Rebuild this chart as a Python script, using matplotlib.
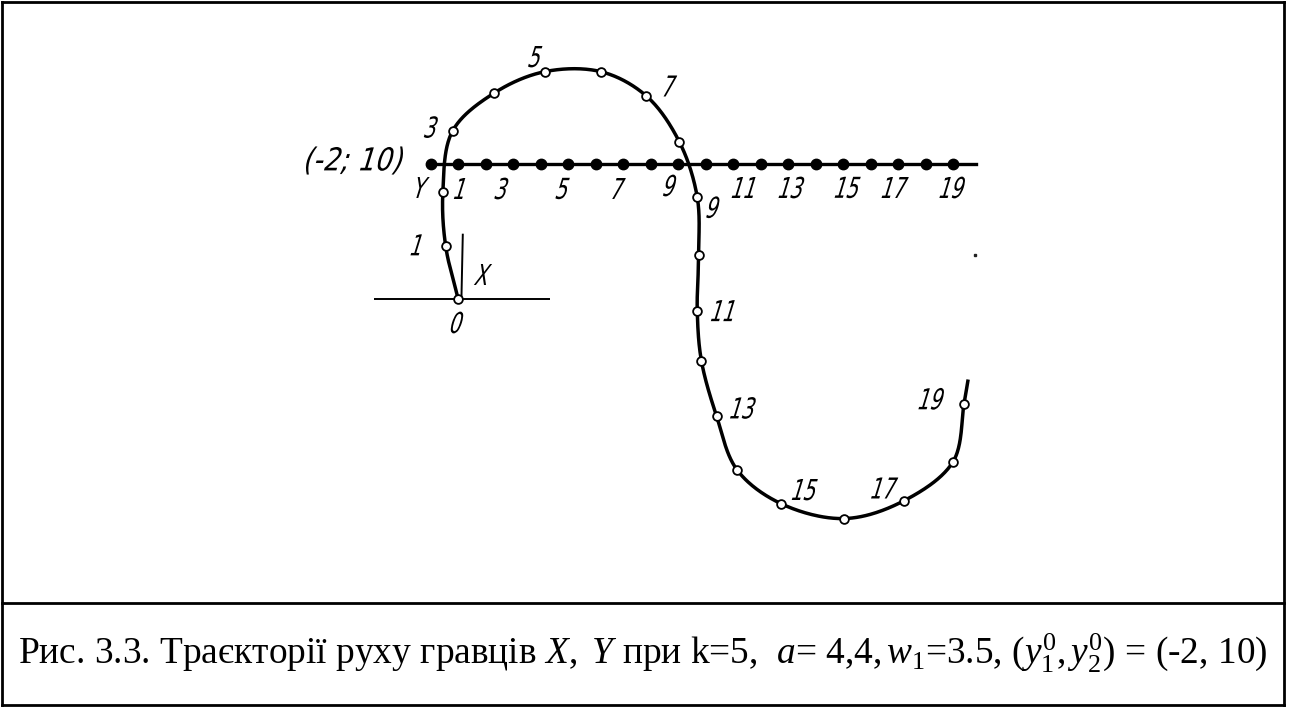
import numpy as np
import matplotlib
matplotlib.use("Agg")
import matplotlib.pyplot as plt
from matplotlib.textpath import TextPath
from matplotlib.patches import PathPatch
from matplotlib.font_manager import FontProperties
from matplotlib.transforms import Affine2D, IdentityTransform

# Player X trajectory, sampled at steps t = 0..19 (horizontal, vertical)
x_step = list(range(20))
x_h = [0.0, -0.9, -1.1, -0.4, 2.6, 6.3, 10.4, 13.7, 16.1, 17.4,
       17.5, 17.4, 17.7, 18.8, 20.3, 23.5, 28.1, 32.4, 36.0, 36.8]
x_v = [0.0, 3.9, 7.9, 12.4, 15.2, 16.8, 16.8, 15.0, 11.6, 7.5,
       3.2, -0.9, -4.6, -8.7, -12.7, -15.2, -16.3, -15.0, -12.1, -7.8]
x_end = (37.1, -6.0)

# Player Y trajectory: starts at (-2; 10) and moves along the line
y_step = list(range(20))
y_h = [-2, 0, 2, 4, 6, 8, 10, 12, 14, 16, 18, 20, 22, 24, 26, 28, 30, 32, 34, 36]
y_v = [10] * 20
y_end_h = 37.7

# step labels
x_labels = {0: "0", 1: "1", 3: "3", 5: "5", 7: "7", 9: "9", 11: "11",
            13: "13", 15: "15", 17: "17", 19: "19"}
y_labels = {1: "1", 3: "3", 5: "5", 7: "7", 9: "9", 11: "11",
            13: "13", 15: "15", 17: "17", 19: "19"}

caption = (r"Рис. 3.3. Траєкторії руху гравців $X,\ Y$ при k=5,  $a$= 4,4,"
           r"$\,w_1$=3.5, $(y_1^0,y_2^0)$ = (-2, 10)")

W, H = 1297, 707
plt.rcParams['mathtext.fontset'] = 'custom'
plt.rcParams['mathtext.rm'] = 'Liberation Serif'
plt.rcParams['mathtext.it'] = 'Liberation Serif:italic'
fig = plt.figure(figsize=(W / 100, H / 100), dpi=100)

# drawing scale: pixels per unit
sx, sy = 13.75, 13.5
ox, oy = 458.0, 298.5
ax = fig.add_axes([0, 0, 1, 1])
ax.set_xlim(-ox / sx, (W - ox) / sx)
ax.set_ylim(-(H - oy) / sy, oy / sy)
ax.axis("off")


def catmull_rom(px, py, n=40, alpha=0.5):
    P = np.column_stack([np.asarray(px, float), np.asarray(py, float)])
    P = np.vstack([2 * P[0] - P[1], P, 2 * P[-1] - P[-2]])
    out = []
    for i in range(1, len(P) - 2):
        p0, p1, p2, p3 = P[i - 1], P[i], P[i + 1], P[i + 2]
        t0 = 0.0
        t1 = t0 + np.linalg.norm(p1 - p0) ** alpha
        t2 = t1 + np.linalg.norm(p2 - p1) ** alpha
        t3 = t2 + np.linalg.norm(p3 - p2) ** alpha
        t = np.linspace(t1, t2, n, endpoint=False)[:, None]
        a1 = (t1 - t) / (t1 - t0) * p0 + (t - t0) / (t1 - t0) * p1
        a2 = (t2 - t) / (t2 - t1) * p1 + (t - t1) / (t2 - t1) * p2
        a3 = (t3 - t) / (t3 - t2) * p2 + (t - t2) / (t3 - t2) * p3
        b1 = (t2 - t) / (t2 - t0) * a1 + (t - t0) / (t2 - t0) * a2
        b2 = (t3 - t) / (t3 - t1) * a2 + (t - t1) / (t3 - t1) * a3
        out.append((t2 - t) / (t2 - t1) * b1 + (t - t1) / (t2 - t1) * b2)
    out.append(P[-2][None, :])
    out = np.vstack(out)
    return out[:, 0], out[:, 1]


# narrow slanted lettering for the point labels
lab_prop = FontProperties(family="DejaVu Sans")


def label(s, xy, off, height=21.0, xscale=0.68):
    path = TextPath((0, 0), s, size=height / 0.729, prop=lab_prop)
    ext = path.get_extents()
    cxp = (ext.x0 + ext.x1) / 2
    cyp = (ext.y0 + ext.y1) / 2
    bx, by = ax.transData.transform(xy)
    tr = (Affine2D().translate(-cxp, -cyp).scale(xscale, 1.0).skew_deg(17, 0)
          .translate(bx + off[0], by + off[1]))
    patch = PathPatch(tr.transform_path(path), facecolor="black", edgecolor="none",
                      transform=IdentityTransform(), zorder=6)
    ax.add_artist(patch)


# local axes at the origin
ax.plot([-6.1, 6.7], [0, 0], color="black", lw=1.4, solid_capstyle="butt", zorder=2)
ax.plot([0.25, 0.35], [0, 4.8], color="black", lw=1.4, solid_capstyle="butt", zorder=2)

# Y trajectory
ax.plot([y_h[0], y_end_h], [y_v[0], y_v[0]], color="black", lw=2.4, zorder=3)
ax.plot(y_h, y_v, "o", ms=7.5, color="black", zorder=4)

# X trajectory
cx, cy = catmull_rom(x_h + [x_end[0]], x_v + [x_end[1]])
ax.plot(cx, cy, color="black", lw=2.5, zorder=3, solid_capstyle="butt")
ax.plot(x_h, x_v, "o", ms=6.3, mfc="white", mec="black", mew=1.3, zorder=5)

x_off = {0: (-1, -24), 1: (-28, 1), 3: (-21, 4), 5: (-9, 15), 7: (23, 10),
         9: (16, -10), 11: (27, 0), 13: (27, 8), 15: (24, 14), 17: (-19, 13),
         19: (-32, 5)}
for t, s in x_labels.items():
    label(s, (x_h[t], x_v[t]), x_off[t])

y_off = {1: (3, -25), 3: (-11, -25), 5: (-5, -25), 7: (-5, -25), 9: (-8, -22),
         11: (12, -24), 13: (4, -24), 15: (5, -24), 17: (-3, -24), 19: (0, -24)}
for t, s in y_labels.items():
    label(s, (y_h[t], y_v[t]), y_off[t])

label("X", (0.3, 0), (21, 24))
label("Y", (y_h[0], y_v[0]), (-10, -24))
label("(-2; 10)", (y_h[0], y_v[0]), (-76, 3), height=23.0, xscale=0.85)

# small speck to the right of the curve
ax.plot([37.6], [3.2], "s", ms=2, color="#222222", zorder=2)

# frame: outer border and caption separator (figure pixels)
fr = fig.add_axes([0, 0, 1, 1], facecolor="none")
fr.set_xlim(0, W)
fr.set_ylim(H, 0)
fr.axis("off")
for xs, ys in [([2, 1283.5], [2, 2]), ([2, 2], [2, 705]), ([1283.5, 1283.5], [2, 705]),
               ([2, 1283.5], [705, 705]), ([2, 1283.5], [603, 603])]:
    fr.plot(xs, ys, color="black", lw=2.0, solid_capstyle="projecting")

fig.text(18 / W, 1 - 653 / H, caption, ha="left", va="center",
         family="Liberation Serif", fontsize=26.9, color="black")

fig.savefig("out.png", dpi=100)
